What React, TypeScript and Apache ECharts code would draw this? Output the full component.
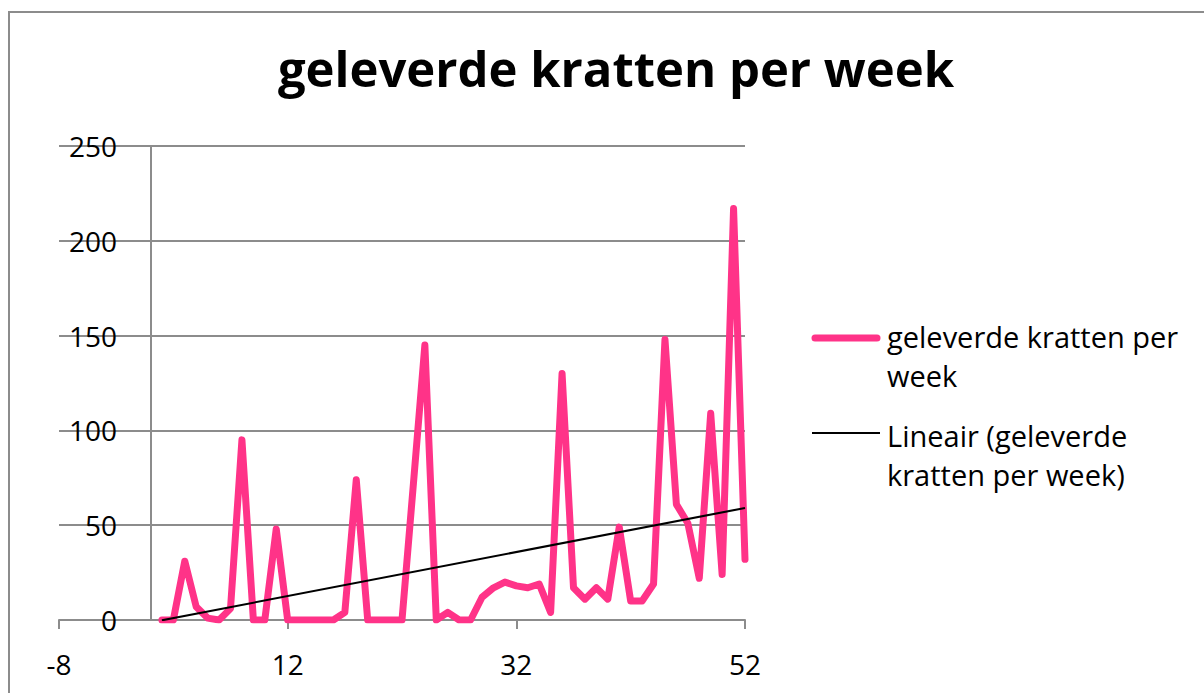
import React, { useEffect, useRef } from "react";
import * as echarts from "echarts";

const weeks = [
  1, 2, 3, 4, 5, 6, 7, 8, 9, 10, 11, 12, 13, 14, 15, 16, 17, 18, 19, 20, 21, 22, 23, 24, 25, 26,
  27, 28, 29, 30, 31, 32, 33, 34, 35, 36, 37, 38, 39, 40, 41, 42, 43, 44, 45, 46, 47, 48, 49, 50, 51, 52,
];
const kratten = [
  0, 0, 31, 7, 1, 0, 6, 95, 0, 0, 48, 0, 0, 0, 0, 0, 4, 74, 0, 0, 0, 0, 72, 145, 0, 4,
  0, 0, 12, 17, 20, 18, 17, 19, 4, 130, 17, 11, 17, 11, 49, 10, 10, 19, 148, 61, 51, 22, 109, 24, 217, 32,
];
const xTicks = [-8, 12, 32, 52];
const yTicks = [0, 50, 100, 150, 200, 250];
const seriesName = "geleverde kratten per week";
const trendName = "Lineair (geleverde kratten per week)";

const PINK = "#ff3388";
const GRID = "#8c8c8c";
const FONT = "'Open Sans', sans-serif";

function linearFit(xs: number[], ys: number[]) {
  const n = xs.length;
  let sx = 0, sy = 0, sxx = 0, sxy = 0;
  for (let i = 0; i < n; i++) {
    sx += xs[i];
    sy += ys[i];
    sxx += xs[i] * xs[i];
    sxy += xs[i] * ys[i];
  }
  const b = (n * sxy - sx * sy) / (n * sxx - sx * sx);
  const a = (sy - b * sx) / n;
  return { a, b };
}

export default function App() {
  const ref = useRef<HTMLDivElement>(null);
  useEffect(() => {
    document.body.style.margin = "0";
    if (!ref.current) return;
    const chart = echarts.init(ref.current, undefined, { renderer: "svg" });
    const { a, b } = linearFit(weeks, kratten);
    const x0 = weeks[0];
    const x1 = weeks[weeks.length - 1];
    const trend = [
      [x0, a + b * x0],
      [x1, a + b * x1],
    ];
    chart.setOption({
      animation: false,
      backgroundColor: "#ffffff",
      title: {
        text: seriesName,
        left: 611,
        textAlign: "center",
        top: 38,
        textStyle: { fontFamily: FONT, fontSize: 49, fontWeight: "bold", color: "#000" },
      },
      grid: { left: 59, right: 459, top: 146, bottom: 73, containLabel: false, outerBoundsMode: "none" },
      xAxis: {
        type: "value",
        min: xTicks[0],
        max: xTicks[xTicks.length - 1],
        interval: 20,
        axisLine: { show: true, lineStyle: { color: GRID, width: 2 } },
        axisTick: { show: true, length: 9, lineStyle: { color: GRID, width: 2 } },
        axisLabel: { color: "#000", fontFamily: FONT, fontSize: 28, margin: 30 },
        splitLine: { show: false },
      },
      yAxis: {
        type: "value",
        min: yTicks[0],
        max: yTicks[yTicks.length - 1],
        interval: 50,
        axisLine: { show: true, onZero: true, lineStyle: { color: GRID, width: 2 } },
        axisTick: { show: false },
        axisLabel: { color: "#000", fontFamily: FONT, fontSize: 28, margin: -58, align: "right" },
        splitLine: { show: true, lineStyle: { color: GRID, width: 2 } },
      },
      series: [
        {
          name: seriesName,
          type: "line",
          data: weeks.map((w, i) => [w, kratten[i]]),
          symbol: "none",
          lineStyle: { color: PINK, width: 7, cap: "round", join: "round" },
          itemStyle: { color: PINK },
          z: 2,
        },
        {
          name: trendName,
          type: "line",
          data: trend,
          symbol: "none",
          lineStyle: { color: "#000", width: 2 },
          itemStyle: { color: "#000" },
          z: 3,
        },
      ],
      graphic: [
        {
          type: "rect",
          shape: { x: 9, y: 12, width: 1300, height: 800 },
          style: { fill: "none", stroke: GRID, lineWidth: 2 },
          silent: true,
        },
        {
          type: "line",
          shape: { x1: 815, y1: 338, x2: 877, y2: 338 },
          style: { stroke: PINK, lineWidth: 7, lineCap: "round" },
        },
        {
          type: "text",
          x: 887,
          y: 317,
          style: {
            text: "geleverde kratten per\nweek",
            fontFamily: FONT,
            fontSize: 29,
            lineHeight: 39,
            fill: "#000",
            textVerticalAlign: "top",
          },
        },
        {
          type: "line",
          shape: { x1: 812, y1: 433, x2: 880, y2: 433 },
          style: { stroke: "#000", lineWidth: 2 },
        },
        {
          type: "text",
          x: 887,
          y: 416,
          style: {
            text: "Lineair (geleverde\nkratten per week)",
            fontFamily: FONT,
            fontSize: 29,
            lineHeight: 39,
            fill: "#000",
            textVerticalAlign: "top",
          },
        },
      ],
    });
    return () => chart.dispose();
  }, []);
  return <div ref={ref} style={{ width: 1204, height: 693 }} />;
}
